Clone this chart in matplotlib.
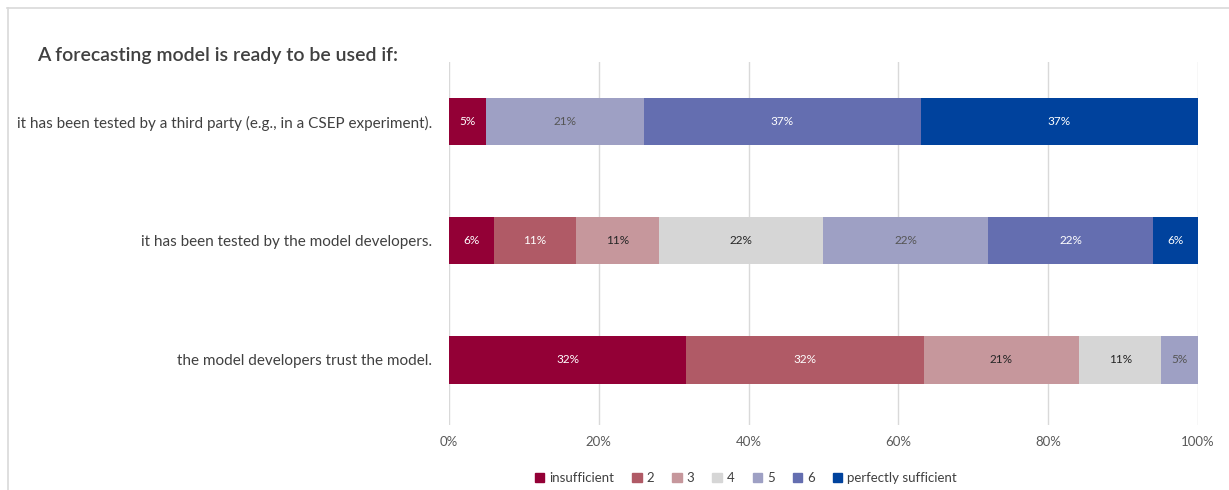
import numpy as np
import matplotlib.pyplot as plt
from matplotlib.patches import Rectangle
from matplotlib.lines import Line2D

plt.rcParams['font.family'] = ['Lato', 'DejaVu Sans']

categories = [
    'the model developers trust the model.',
    'it has been tested by the model developers.',
    'it has been tested by a third party (e.g., in a CSEP experiment).',
]
levels = ['insufficient', '2', '3', '4', '5', '6', 'perfectly sufficient']
# percent of answers per level, rows follow categories (bottom to top)
shares = [
    [32, 32, 21, 11, 5, 0, 0],
    [6, 11, 11, 22, 22, 22, 6],
    [5, 0, 0, 0, 21, 37, 37],
]
colors = ['#930036', '#B05A66', '#C6979C', '#D6D6D6', '#9EA0C4', '#646EB0', '#00429D']
label_colors = ['white', 'white', '#262626', '#262626', '#555555', 'white', 'white']

fig = plt.figure(figsize=(12.29, 4.90), dpi=100)
ax = fig.add_axes([0.3653, 0.1327, 0.6095, 0.7408])

vals = np.array(shares, dtype=float)
# 100% stacked: each row is scaled to its total
norm = vals / vals.sum(axis=1, keepdims=True) * 100
y = np.arange(len(categories))
left = np.zeros(len(categories))
for j, lev in enumerate(levels):
    ax.barh(y, norm[:, j], left=left, height=0.395, color=colors[j], label=lev, zorder=3)
    for i in range(len(categories)):
        if vals[i, j] > 0:
            ax.text(left[i] + norm[i, j] / 2, y[i], f'{int(vals[i, j])}%',
                    ha='center', va='center', fontsize=8.5, color=label_colors[j], zorder=4)
    left += norm[:, j]

ax.set_xlim(0, 100)
ax.set_ylim(-0.546, 2.504)
ax.set_xticks(np.arange(0, 101, 20))
ax.set_xticklabels([f'{t}%' for t in range(0, 101, 20)])
ax.set_yticks(y)
ax.set_yticklabels(categories)
ax.xaxis.grid(True, color='#D9D9D9', linewidth=1, zorder=0)
ax.tick_params(axis='x', length=0, pad=8, labelsize=9.5, labelcolor='#595959')
ax.tick_params(axis='y', length=0, pad=12, labelsize=11, labelcolor='#404040')
for s in ax.spines.values():
    s.set_visible(False)

fig.text(37 / 1229, 1 - 55 / 490, 'A forecasting model is ready to be used if:',
         fontsize=14, fontweight='semibold', color='#404040', va='center')

# light frame around the chart
fig.add_artist(Line2D([7 / 1229, 1], [1 - 8.5 / 490] * 2, color='#D9D9D9', linewidth=1.2,
                      transform=fig.transFigure))
fig.add_artist(Line2D([7.5 / 1229] * 2, [0, 1 - 8.5 / 490], color='#D9D9D9', linewidth=1.2,
                      transform=fig.transFigure))

handles = [Rectangle((0, 0), 1, 1, color=c) for c in colors]
fig.legend(handles, levels, loc='center', bbox_to_anchor=(746 / 1229, 1 - 478 / 490),
           ncol=7, frameon=False, fontsize=9.5, labelcolor='#404040', handlelength=0.7,
           handleheight=0.7, handletextpad=0.4, columnspacing=1.35)

fig.savefig('out.png', dpi=100)
